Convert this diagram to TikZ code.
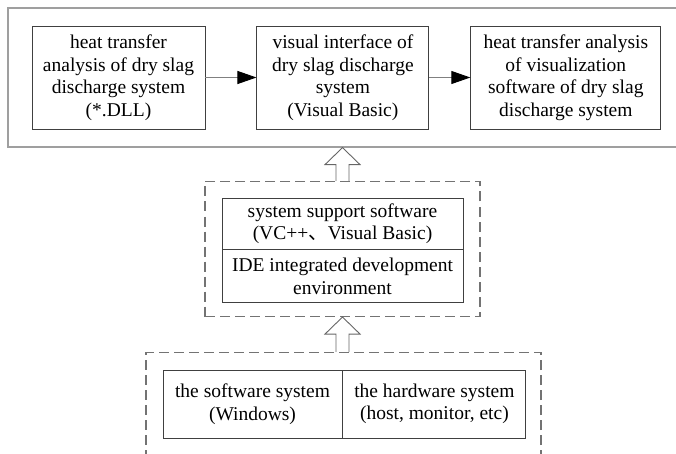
\documentclass[tikz,border=0pt]{standalone}
\usepackage{fontspec}
\setmainfont{Liberation Serif}
\newfontfamily\cjkfont{Noto Sans CJK SC}
\usetikzlibrary{arrows.meta, positioning, calc}

% hollow block arrow pointing up: #1 tail point, #2 tip point
\newcommand{\hollowup}[2]{%
  \draw[hollow] ($(#1)+(-6.5,0)$) -- ($(#2)+(-6.5,17)$) -- ($(#2)+(-17.5,17)$)
    -- (#2) -- ($(#2)+(17.5,17)$) -- ($(#2)+(6.5,17)$) -- ($(#1)+(6.5,0)$);}

\begin{document}
\begin{tikzpicture}[x=1pt, y=-1pt, >=Stealth,
    every node/.style={font=\fontsize{19.5}{22.5}\selectfont},
    layer/.style={draw=gray!75, line width=1.2pt, inner sep=0pt},
    module/.style={draw=black!75, line width=0.9pt, align=center, inner sep=0pt},
    frame/.style={draw=black!55, line width=1.1pt, dash pattern=on 10pt off 5pt, inner sep=0pt},
    hollow/.style={draw=black!60, line width=0.9pt, fill=white},
    flow/.style={draw=gray, line width=0.9pt, -{Triangle[length=19pt, width=13pt, color=black]}}]
  \useasboundingbox (0,0) rectangle (676,454);
  \clip (0,0) rectangle (676,454);

  % application layer
  \node[layer, minimum width=692, minimum height=139] (app) at (354,77.5) {};
  \node[module, minimum width=173, minimum height=103] (dll) at (118.5,77.5)
    {heat transfer\\analysis of dry slag\\discharge system\\(*.DLL)};
  \node[module, minimum width=172, minimum height=103, right=51pt of dll] (gui)
    {visual interface of\\dry slag discharge\\system\\(Visual Basic)};
  \node[module, minimum width=190, minimum height=103, right=41pt of gui] (soft)
    {heat transfer analysis\\of visualization\\software of dry slag\\discharge system};
  \draw[flow] (dll) -- (gui);
  \draw[flow] (gui) -- (soft);

  % support layer
  \node[frame, minimum width=275, minimum height=135] (support) at (342.5,249) {};
  \node[module, minimum width=241, minimum height=51] (tools) at (342.5,223.5)
    {system support software\\(VC++{\cjkfont 、}Visual Basic)};
  \node[module, minimum width=241, minimum height=53, below=0pt of tools] (ide)
    {IDE integrated development\\environment};

  % platform layer
  \node[frame, minimum width=395, minimum height=117.5] (platform) at (343.5,411.25) {};
  \node[module, minimum width=179, minimum height=68] (os) at (252.5,404)
    {the software system\\(Windows)};
  \node[module, minimum width=183, minimum height=68, right=0pt of os] (hw)
    {the hardware system\\(host, monitor, etc)};

  \hollowup{support.north}{support.north |- app.south}
  \hollowup{support.south |- platform.north}{support.south}
\end{tikzpicture}
\end{document}
